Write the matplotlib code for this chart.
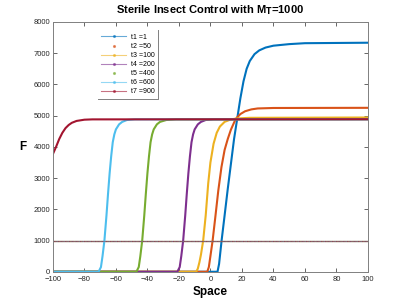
import numpy as np
import matplotlib
matplotlib.use("Agg")
import matplotlib.pyplot as plt
from matplotlib.lines import Line2D

plt.rcParams['font.family'] = ['Liberation Sans', 'DejaVu Sans']

labels = ['t1 =1', 't2 =50', 't3 =100', 't4 =200', 't5 =400', 't6 =600', 't7 =900']
colors = ['#0072BD', '#D95319', '#EDB120', '#7E2F8E', '#77AC30', '#4DBEEE', '#A2142F']
legend_line = [True, False, True, True, False, True, True]

# F(x) for each time
t1_x = [-100, 4.5, 5.5, 7.1, 9, 11, 13, 15, 17, 19, 21, 23, 25, 28, 31, 35, 40, 50, 60, 100]
t1_F = [0, 0, 250, 1000, 1800, 2650, 3450, 4250, 4900, 5550, 6100, 6500, 6750, 6970, 7090, 7180, 7240, 7290, 7320, 7335]

t2_x = [-100, -2, -1, 0, 1.4, 3, 5, 7, 9, 11, 13, 16, 19, 22, 26, 30, 40, 100]
t2_F = [0, 0, 150, 500, 1000, 1700, 2600, 3350, 3900, 4250, 4550, 4890, 5050, 5140, 5200, 5230, 5245, 5250]

t3_x = [-100, -9, -8, -7, -6, -4.6, -3, -1.4, 0, 2, 4, 6, 9, 13, 17, 25, 100]
t3_F = [0, 0, 100, 300, 550, 1000, 1800, 2830, 3500, 4100, 4450, 4650, 4800, 4880, 4910, 4930, 4940]

t4_x = [-100, -21, -19.5, -18.5, -17.3, -16, -15, -14, -13, -12, -11, -10, -8, -6, -3, 2, 100]
t4_F = [0, 0, 150, 500, 1000, 1800, 2500, 3150, 3700, 4150, 4400, 4560, 4720, 4800, 4860, 4880, 4885]

t5_x = [-100, -47, -45.5, -44.5, -43.3, -42, -41, -40, -39, -38, -37, -36, -34, -32, -28, -22, 100]
t5_F = [0, 0, 150, 500, 1000, 1800, 2500, 3150, 3700, 4150, 4400, 4560, 4720, 4800, 4860, 4880, 4885]

t6_x = [-100, -71, -69.5, -68.5, -67.3, -66, -65, -64, -63, -62, -61, -60, -58, -56, -53, -48, 100]
t6_F = [0, 0, 150, 500, 1000, 1800, 2500, 3150, 3700, 4150, 4400, 4560, 4720, 4800, 4860, 4880, 4885]

t7_x = [-100, -98, -96, -94, -92, -90, -88, -85, -80, -75, 100]
t7_F = [3770, 4000, 4250, 4450, 4600, 4700, 4770, 4830, 4870, 4880, 4885]

sterile_level = 1000  # M_T

series_x = [t1_x, t2_x, t3_x, t4_x, t5_x, t6_x, t7_x]
series_F = [t1_F, t2_F, t3_F, t4_F, t5_F, t6_F, t7_F]

fig = plt.figure(figsize=(4.07, 3.05), dpi=100)
ax = fig.add_axes([0.130, 0.109, 0.774, 0.819])

n = len(colors)
step = 0.5
for k, (xs, Fs, c) in enumerate(zip(series_x, series_F, colors)):
    ax.plot(xs, Fs, color=c, lw=1.5, solid_joinstyle='round')
    grid = np.arange(-100 + k * step / n, 100, step)
    ax.plot(grid, np.full_like(grid, sterile_level), linestyle='none', marker='.',
            markersize=1.8, markeredgewidth=0, color=c, alpha=0.35)

ax.set_xlim(-100, 100)
ax.set_ylim(0, 8000)
ax.set_xticks(np.arange(-100, 101, 20))
ax.set_yticks(np.arange(0, 8001, 1000))
ax.tick_params(direction='in', length=3, width=0.6, labelsize=5.5, colors='#4d4d4d',
               top=True, right=True, pad=2)
ax.tick_params(axis='x', pad=3)
for lab in ax.get_xticklabels() + ax.get_yticklabels():
    lab.set_color('#262626')
for s in ax.spines.values():
    s.set_color('#808080')
    s.set_linewidth(0.7)

ax.set_title(r'Sterile Insect Control with M$_\mathbf{T}$=1000', fontsize=8,
             fontweight='bold', pad=6)
ax.set_xlabel('Space', fontsize=8.5, fontweight='bold', labelpad=2)
ax.set_ylabel('F', fontsize=8.5, fontweight='bold', rotation=0, labelpad=8, va='center')

handles = []
for c, lab, has_line in zip(colors, labels, legend_line):
    handles.append(Line2D([], [], color=c, lw=0.8 if has_line else 0, alpha=0.6,
                          marker='.', markersize=2.5,
                          linestyle='-' if has_line else 'none', label=lab))
leg = ax.legend(handles=handles, loc='lower right', bbox_to_anchor=(0.333, 0.692),
                fontsize=5, frameon=False, handlelength=3.6, handletextpad=0.6,
                labelspacing=0.3, borderpad=0.5, borderaxespad=0)

fig.canvas.draw()
bb = leg.get_window_extent()
inv = fig.transFigure.inverted()
(x0, y0), (x1, y1) = inv.transform([[bb.x0, bb.y0], [bb.x1, bb.y1]])
fig.add_artist(Line2D([x0, x1, x1], [y0, y0, y1], transform=fig.transFigure,
                      color='#808080', lw=0.7))

fig.savefig('out.png', dpi=100)
